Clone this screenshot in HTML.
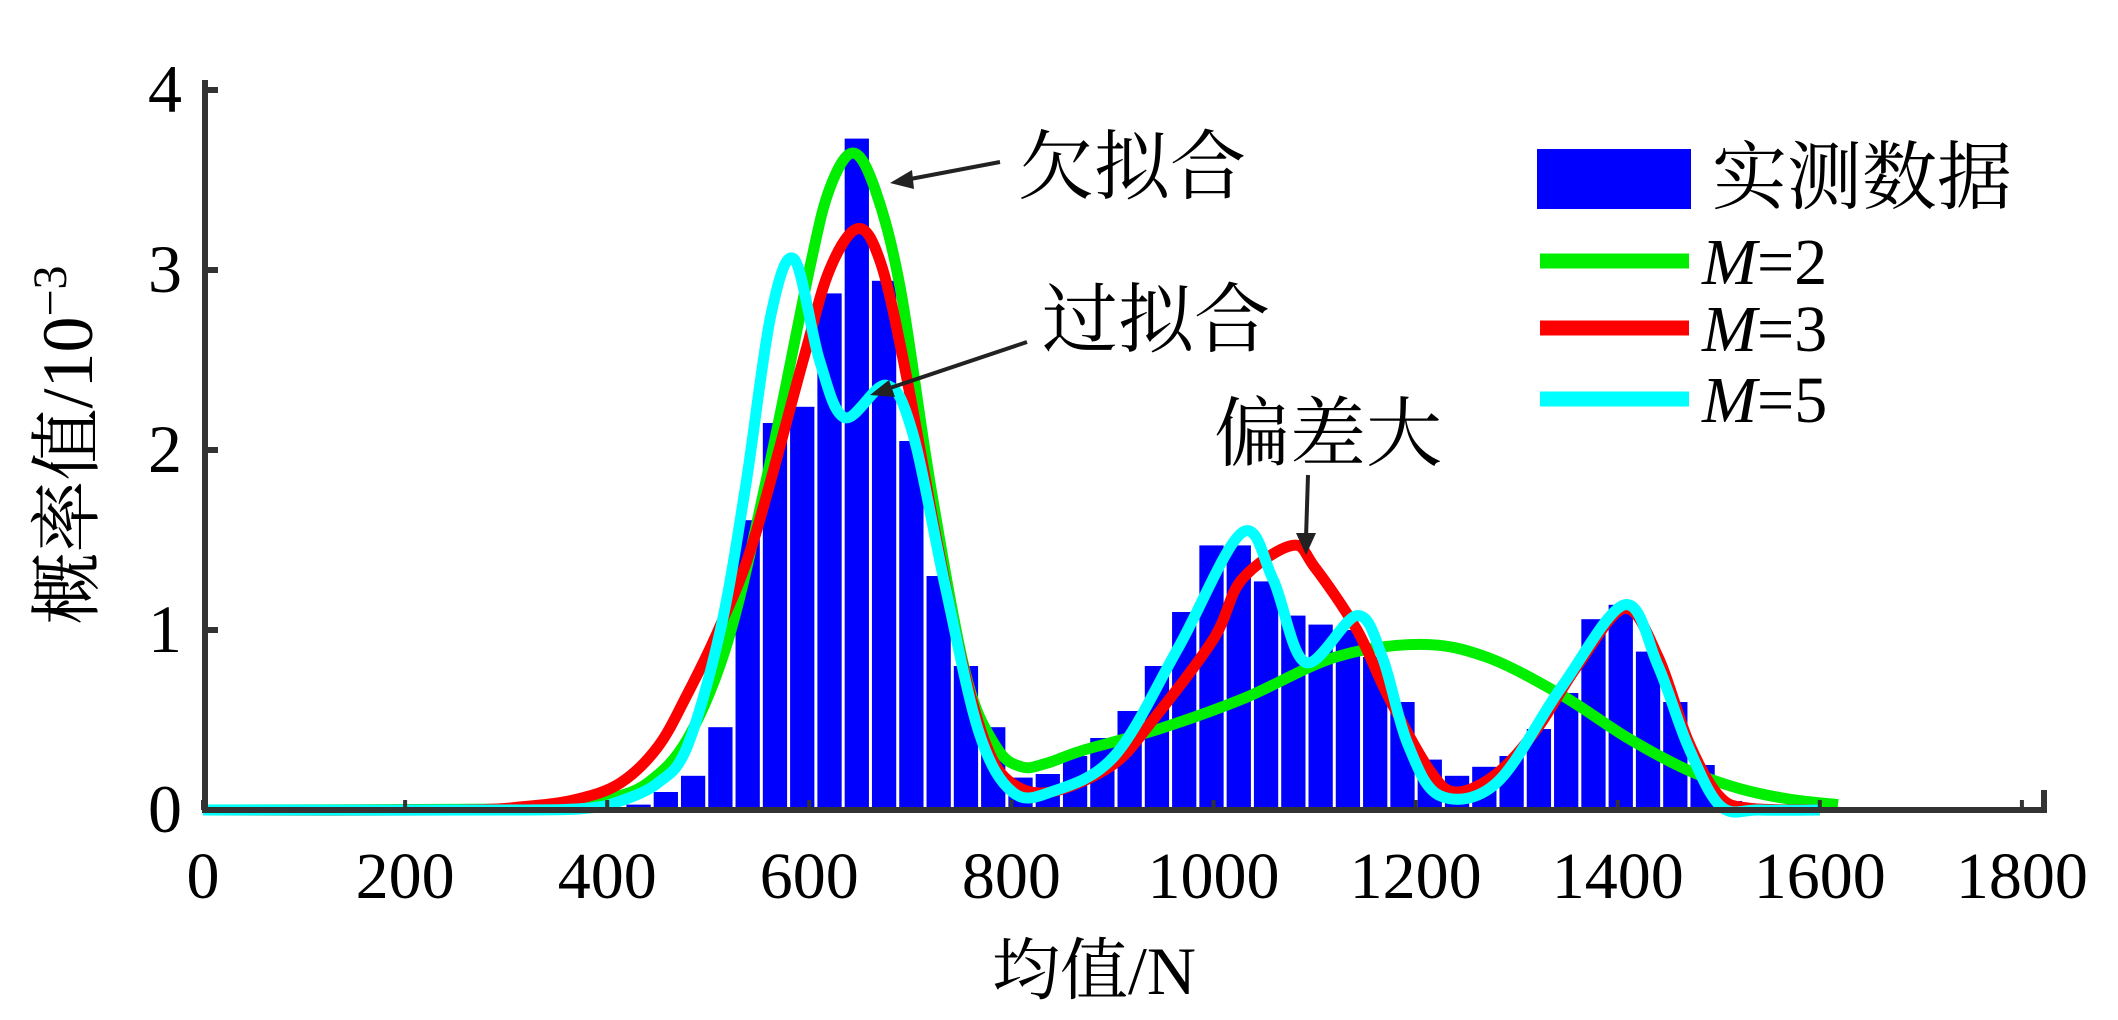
<!DOCTYPE html>
<html><head><meta charset="utf-8">
<style>
html,body{margin:0;padding:0;background:#fff;}
svg{display:block;}
text{font-family:"Liberation Serif","Noto Serif CJK SC","Noto Sans CJK SC",serif;fill:#000;}
</style></head>
<body>
<svg id="chart" width="2118" height="1020" viewBox="0 0 2118 1020">
<g id="bars"></g>
<g id="curves"></g>
<g id="axes"></g>
<g>
  <text x="1018" y="193" font-size="76">欠拟合</text>
  <line x1="1000" y1="162" x2="905" y2="180" stroke="#222" stroke-width="4"/>
  <polygon points="890,183 912,170 914,189" fill="#222"/>
  <text x="1042" y="346" font-size="76">过拟合</text>
  <line x1="1027" y1="342" x2="884" y2="390" stroke="#222" stroke-width="4"/>
  <polygon points="870,395 889,380 895,397" fill="#222"/>
  <text x="1214" y="460" font-size="76">偏差大</text>
  <line x1="1308" y1="475" x2="1306" y2="538" stroke="#222" stroke-width="4"/>
  <polygon points="1296,533 1316,533 1306,555" fill="#222"/>
</g>
<g>
  <rect x="1537" y="149" width="154" height="60" fill="#0000ff"/>
  <text x="1712" y="203" font-size="75">实测数据</text>
  <line x1="1540" y1="261" x2="1689" y2="261" stroke="#00ee00" stroke-width="15"/>
  <text x="1702" y="284" font-size="66"><tspan font-style="italic">M</tspan>=2</text>
  <line x1="1540" y1="328" x2="1689" y2="328" stroke="#ff0000" stroke-width="15"/>
  <text x="1702" y="351" font-size="66"><tspan font-style="italic">M</tspan>=3</text>
  <line x1="1540" y1="399" x2="1689" y2="399" stroke="#00ffff" stroke-width="15"/>
  <text x="1702" y="422" font-size="66"><tspan font-style="italic">M</tspan>=5</text>
</g>
<text x="1094" y="994" font-size="68" text-anchor="middle">均值/N</text>
<text transform="translate(92,445) rotate(-90)" font-size="72" text-anchor="middle">概率值/10<tspan baseline-shift="super" font-size="48">−3</tspan></text>
</svg>
<script>
const binStarts=[419,446,473,500,527,554,581,608,635,662,689,716,743,770,797,824,851,878,905,932,959,986,1013,1040,1067,1094,1121,1148,1175,1202,1229,1256,1283,1310,1337,1364,1391,1418,1445,1472,1499];
const binValues=[0.03,0.1,0.19,0.46,1.61,2.15,2.24,2.87,3.73,2.94,2.05,1.3,0.8,0.46,0.18,0.2,0.3,0.4,0.55,0.8,1.1,1.47,1.47,1.27,1.08,1.03,1.0,0.85,0.6,0.28,0.19,0.24,0.3,0.45,0.65,1.06,1.14,0.88,0.6,0.25,0.05];
const binWidth=27;
const greenX=[0,300,360,400,440,480,520,560,600,620,643,665,690,720,755,785,810,835,870,946,1030,1121,1205,1270,1344,1410,1470,1520,1570,1618];
const greenY=[0,0.005,0.02,0.06,0.15,0.4,0.95,1.9,3.0,3.45,3.65,3.45,2.9,1.8,0.75,0.35,0.24,0.26,0.33,0.45,0.62,0.85,0.92,0.85,0.64,0.4,0.22,0.12,0.06,0.03];
const redX=[0,250,320,370,413,450,479,510,545,594,620,648,670,693,726,750,775,800,839,900,940,1000,1028,1078,1100,1142,1173,1214,1240,1280,1320,1360,1407,1440,1470,1500,1530,1600];
const redY=[0,0,0.02,0.06,0.15,0.35,0.64,1.0,1.5,2.5,3.0,3.23,3.05,2.5,1.5,0.85,0.36,0.15,0.1,0.25,0.5,0.95,1.28,1.47,1.35,1.0,0.63,0.22,0.1,0.2,0.45,0.8,1.12,0.85,0.38,0.08,0.01,0];
const cyanX=[0,300,380,413,450,479,512,537,562,585,610,635,676,702,735,768,801,839,902,965,1028,1059,1091,1142,1167,1192,1224,1280,1344,1407,1440,1470,1502,1540,1600];
const cyanY=[0,0,0.01,0.05,0.15,0.35,1.0,1.8,2.75,3.06,2.5,2.18,2.36,2.1,1.23,0.43,0.1,0.1,0.3,0.9,1.54,1.28,0.82,1.08,0.85,0.37,0.08,0.15,0.68,1.14,0.8,0.35,0.02,0,0];
const xTicks=[0,200,400,600,800,1000,1200,1400,1600,1800];
const yTicks=[0,1,2,3,4];

const NS="http://www.w3.org/2000/svg";
function X(v){return 203+v*1.0105;}
function Y(v){return 810-v*180;}
function mk(tag,attrs,parent){const e=document.createElementNS(NS,tag);for(const k in attrs)e.setAttribute(k,attrs[k]);parent.appendChild(e);return e;}

const bars=document.getElementById('bars');
binStarts.forEach((s,i)=>{
  const x0=X(s),x1=X(s+binWidth);
  const r=mk('rect',{x:x0,y:Y(binValues[i]),width:Math.max(1,x1-x0-3),height:810-Y(binValues[i]),fill:'#0000ff'},bars);
  
  
});

function smooth(xs,ys){
  const p=xs.map((x,i)=>[X(x),Y(ys[i])]);
  let d='M'+p[0][0]+','+p[0][1];
  for(let i=0;i<p.length-1;i++){
    const p0=p[i-1]||p[i],p1=p[i],p2=p[i+1],p3=p[i+2]||p[i+1];
    const c1=[p1[0]+(p2[0]-p0[0])/6,p1[1]+(p2[1]-p0[1])/6];
    const c2=[p2[0]-(p3[0]-p1[0])/6,p2[1]-(p3[1]-p1[1])/6];
    d+=' C'+c1[0]+','+c1[1]+' '+c2[0]+','+c2[1]+' '+p2[0]+','+p2[1];
  }
  return d;
}
const curves=document.getElementById('curves');
const g=mk('path',{d:smooth(greenX,greenY),fill:'none',stroke:'#00ee00','stroke-width':11,'stroke-linejoin':'round'},curves);


const r=mk('path',{d:smooth(redX,redY),fill:'none',stroke:'#ff0000','stroke-width':11,'stroke-linejoin':'round'},curves);


const c=mk('path',{d:smooth(cyanX,cyanY),fill:'none',stroke:'#00ffff','stroke-width':11,'stroke-linejoin':'round'},curves);



const axes=document.getElementById('axes');
const ya=mk('line',{x1:205,y1:80,x2:205,y2:812,stroke:'#333','stroke-width':6},axes);


const xa=mk('line',{x1:202,y1:810,x2:2047,y2:810,stroke:'#333','stroke-width':6},axes);


const xe=mk('line',{x1:2044,y1:790,x2:2044,y2:812,stroke:'#333','stroke-width':6},axes);


yTicks.forEach(v=>{
  const t=mk('line',{x1:205,y1:Y(v),x2:218,y2:Y(v),stroke:'#333','stroke-width':6},axes);
  
  
  const l=mk('text',{x:182,y:Y(v)+22,'font-size':68,'text-anchor':'end'},axes);
  l.textContent=String(v);
  
  
});
xTicks.forEach(v=>{
  const t=mk('line',{x1:X(v),y1:810,x2:X(v),y2:800,stroke:'#333','stroke-width':4},axes);
  
  
  const l=mk('text',{x:X(v),y:898,'font-size':66,'text-anchor':'middle'},axes);
  l.textContent=String(v);
  
  
});
</script>
</body></html>
